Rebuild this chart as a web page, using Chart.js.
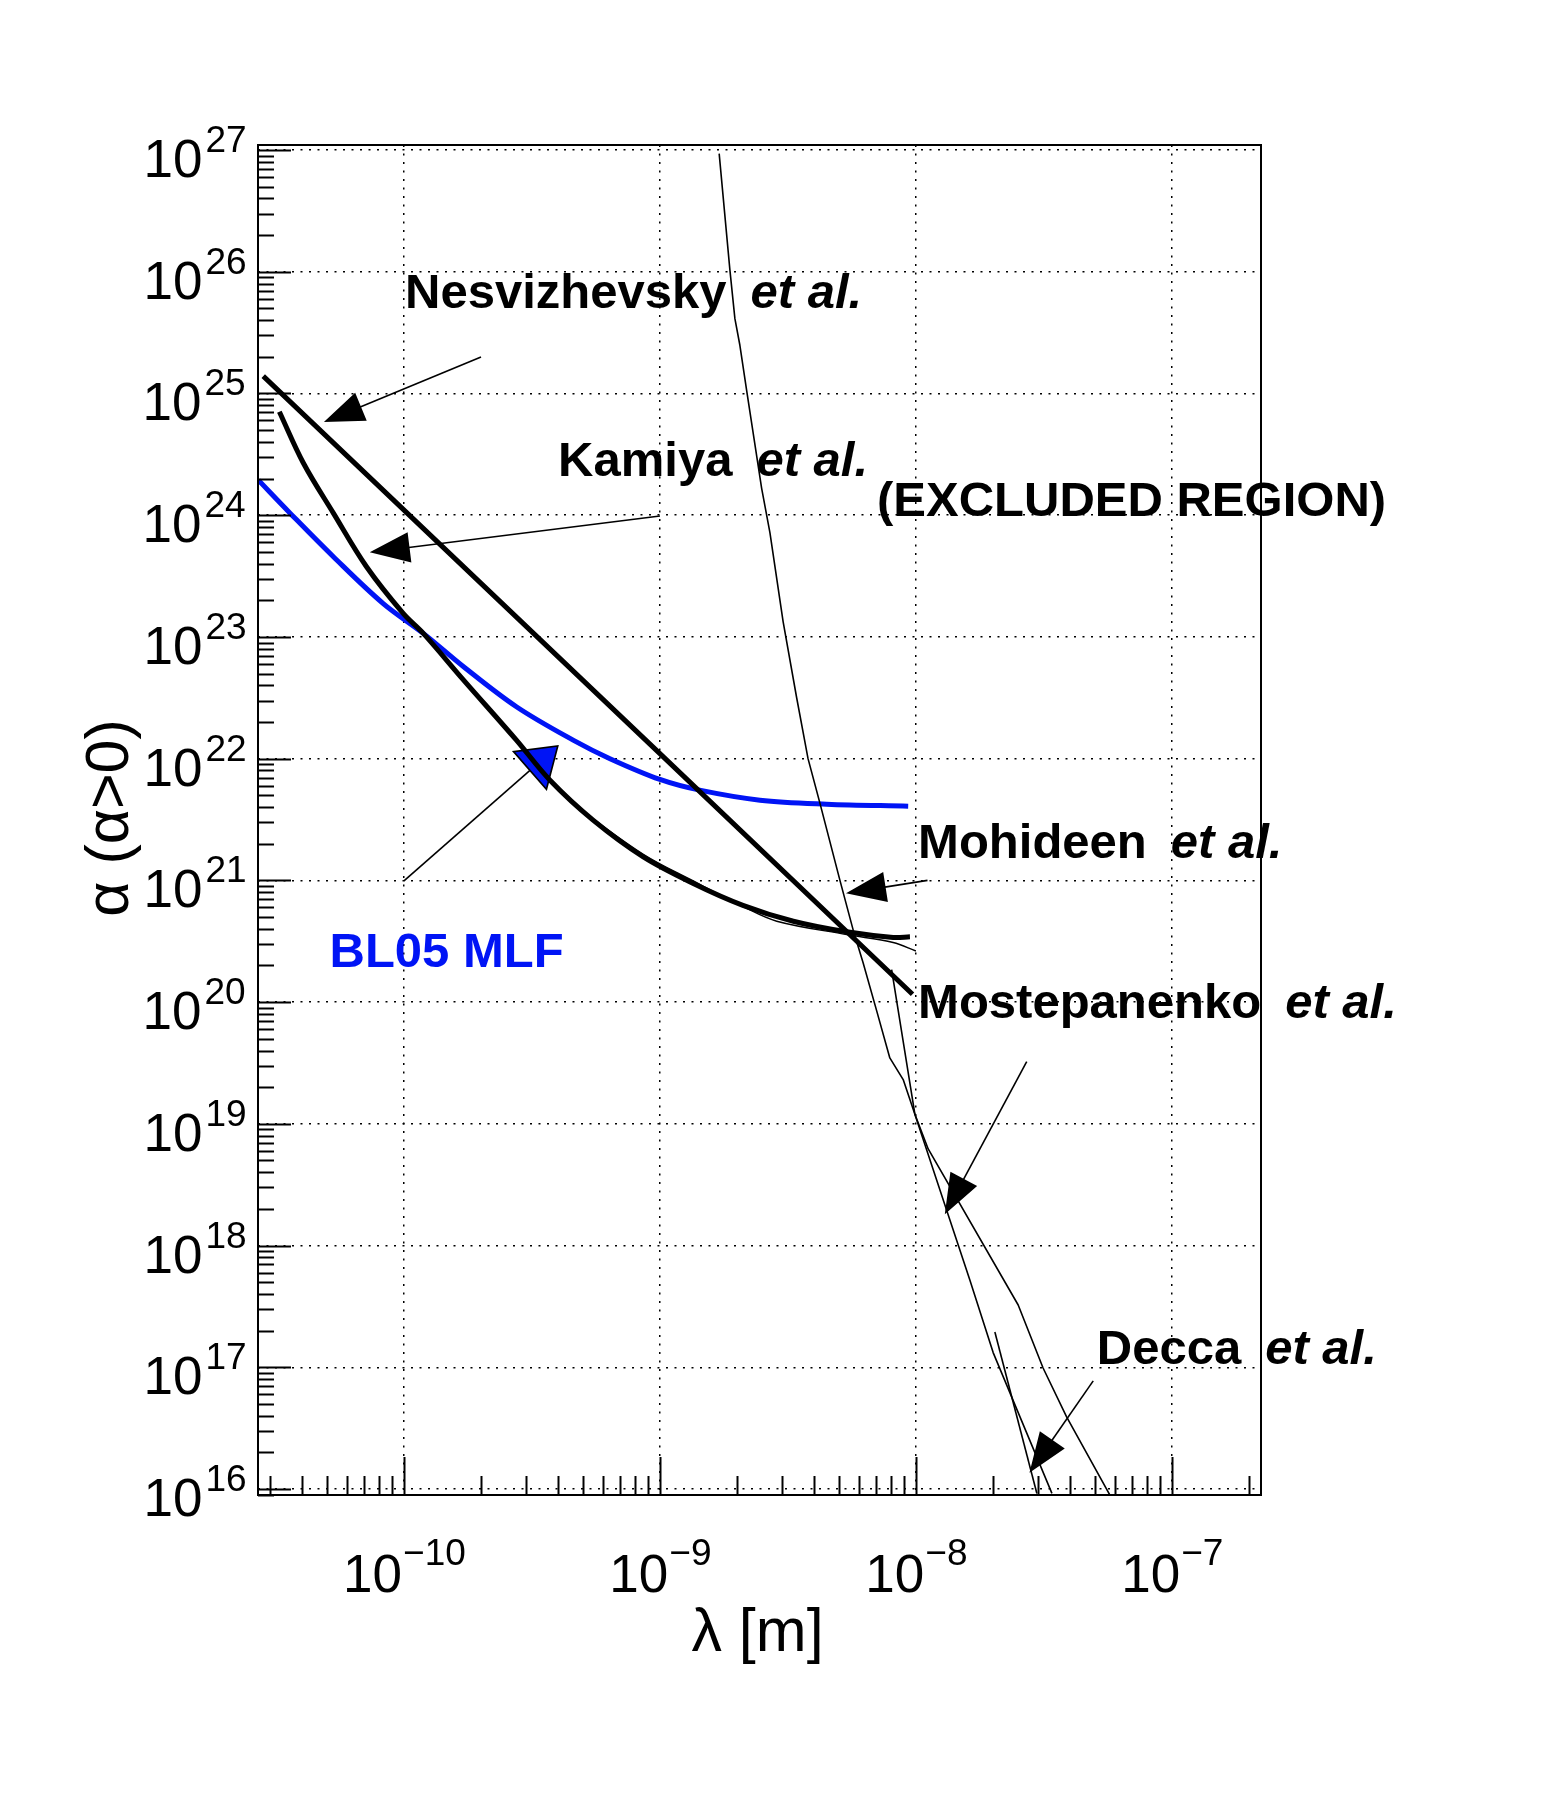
<!DOCTYPE html>
<html>
<head>
<meta charset="utf-8">
<title>alpha vs lambda</title>
<script src="https://cdn.jsdelivr.net/npm/chart.js@4.4.1/dist/chart.umd.min.js"></script>
<style>
  html, body { margin: 0; padding: 0; background: #fff; }
  #wrap { width: 1546px; height: 1796px; position: relative; }
</style>
</head>
<body>
<div id="wrap"><canvas id="chart"></canvas></div>
<script>
// axis ranges (lambda in m, alpha dimensionless)
const lambdaMin = 2.69e-11, lambdaMax = 2.23e-7;
const alphaMin = 8.93e15, alphaMax = 1.10e27;
const lambdaDecades = [-10, -9, -8, -7];
const alphaDecades = [16, 17, 18, 19, 20, 21, 22, 23, 24, 25, 26, 27];

// BL05 MLF sensitivity (blue)
const bl05Lambda = [2.70e-11, 3.59e-11, 5.30e-11, 8.30e-11, 1.19e-10, 1.71e-10, 2.75e-10, 4.58e-10, 6.38e-10, 1.0e-9, 1.43e-9, 2.46e-9, 4.48e-9, 9.33e-9];
const bl05Alpha  = [1.94e24, 1.04e24, 4.56e23, 1.88e23, 1.07e23, 5.69e22, 2.67e22, 1.42e22, 1.0e22, 6.75e21, 5.51e21, 4.56e21, 4.23e21, 4.07e21];

// Nesvizhevsky et al.
const nesvLambda = [2.82e-11, 1.0e-9, 9.7e-9];
const nesvAlpha  = [1.39e25, 1.10e22, 1.16e20];

// Kamiya et al. (thick)
const kamiyaLambda = [3.26e-11, 4.05e-11, 5.30e-11, 7.14e-11, 9.93e-11, 1.19e-10, 1.71e-10, 2.75e-10, 3.72e-10, 5.48e-10, 8.61e-10, 1.35e-9, 2.11e-9, 3.32e-9, 5.36e-9, 8.15e-9, 9.48e-9];
const kamiyaAlpha  = [7.08e24, 2.67e24, 1.04e24, 3.77e23, 1.56e23, 1.07e23, 4.42e22, 1.42e22, 6.65e21, 3.13e21, 1.56e21, 9.44e20, 6.24e20, 4.62e20, 3.78e20, 3.40e20, 3.44e20];

// thin curve running along Kamiya
const kamiyaThinLambda = [5.01e-10, 8.61e-10, 1.35e-9, 2.11e-9, 2.86e-9, 5.36e-9, 8.15e-9, 1.0e-8];
const kamiyaThinAlpha  = [3.67e21, 1.64e21, 9.89e20, 6.1e20, 4.62e20, 3.59e20, 3.09e20, 2.63e20];

// Mohideen et al. (steep thin curve from the top)
const mohideenLambda = [1.704e-9, 1.876e-9, 1.963e-9, 2.053e-9, 2.18e-9, 2.496e-9, 2.69e-9, 3.03e-9, 3.42e-9, 3.79e-9, 4.22e-9, 5.05e-9, 5.69e-9, 6.22e-9, 7.02e-9, 7.91e-9, 8.92e-9, 9.91e-9, 1.117e-8, 2.51e-8, 3.14e-8, 3.88e-8, 5.73e-8];
const mohideenAlpha  = [9.35e26, 1.04e26, 4.12e25, 2.49e25, 1.07e25, 1.67e24, 7.19e23, 1.33e23, 3.18e22, 1.0e22, 4.29e21, 1.0e21, 3.90e20, 2.11e20, 8.55e19, 3.48e19, 2.31e19, 1.20e19, 6.22e18, 3.25e17, 9.87e16, 3.91e16, 8.9e15];

// Mostepanenko et al.
const mostLambda = [8.04e-9, 9.91e-9, 1.318e-8, 1.626e-8, 2.004e-8, 3.40e-8];
const mostAlpha  = [1.85e20, 1.2e19, 1.96e18, 5.19e17, 1.32e17, 9.2e15];

// Decca et al.
const deccaLambda = [2.035e-8, 2.97e-8];
const deccaAlpha  = [1.95e17, 9.2e15];

// annotation texts (left end of baseline, data coordinates)
const labelNames  = ['Nesvizhevsky', 'Kamiya', 'Mohideen', 'Mostepanenko', 'Decca'];
const labelLambda = [1.01e-10, 4.0e-10, 1.02e-8, 1.02e-8, 5.09e-8];
const labelAlpha  = [5.04e25, 2.1e24, 1.52e21, 7.38e19, 1.06e17];
const excludedPos = [7.05e-9, 9.8e23];
const bl05LabelPos = [5.12e-11, 1.95e20];

// arrows: tail -> head (data coordinates)
const arrowFromLambda = [2.00e-10, 1.0e-9, 1.0e-10, 1.11e-8, 2.71e-8, 4.93e-8];
const arrowFromAlpha  = [1.99e25, 9.84e23, 9.9e20, 1.0e21, 3.24e19, 7.73e16];
const arrowToLambda   = [4.96e-11, 7.50e-11, 3.99e-10, 5.44e-9, 1.31e-8, 2.81e-8];
const arrowToAlpha    = [5.93e24, 4.98e23, 1.27e22, 7.9e20, 1.88e18, 1.41e16];

const FONT = "'Liberation Sans', Arial, Helvetica, sans-serif";
const BLUE = 'rgb(0,20,245)';
const arrowStyle = { 2: { fill: BLUE, half: 25 } };

function pts(xs, ys) { return xs.map((x, i) => ({ x: x, y: ys[i] })); }

function logTicks(minV, maxV) {
  const out = [];
  const e0 = Math.floor(Math.log10(minV)), e1 = Math.ceil(Math.log10(maxV));
  for (let e = e0; e <= e1; e++) {
    for (let m = 1; m <= 9; m++) {
      const v = m * Math.pow(10, e);
      if (v >= minV && v <= maxV) out.push({ value: v, major: m === 1 });
    }
  }
  return out;
}

function line(ctx, x0, y0, x1, y1) {
  ctx.beginPath(); ctx.moveTo(x0, y0); ctx.lineTo(x1, y1); ctx.stroke();
}

const arrows = {
  id: 'arrows',
  beforeDatasetsDraw(chart) {
    const { ctx, scales: { x, y } } = chart;
    ctx.save();
    ctx.strokeStyle = '#000';
    ctx.lineWidth = 1.6;
    ctx.lineJoin = 'miter';
    arrowFromLambda.forEach((l, i) => {
      const x0 = x.getPixelForValue(l), y0 = y.getPixelForValue(arrowFromAlpha[i]);
      const x1 = x.getPixelForValue(arrowToLambda[i]), y1 = y.getPixelForValue(arrowToAlpha[i]);
      const st = arrowStyle[i] || {};
      const len = 37, half = st.half || 14;
      const ang = Math.atan2(y1 - y0, x1 - x0);
      const bx = x1 - len * Math.cos(ang), by = y1 - len * Math.sin(ang);
      line(ctx, x0, y0, bx, by);
      const nx = -Math.sin(ang) * half, ny = Math.cos(ang) * half;
      ctx.beginPath();
      ctx.moveTo(x1, y1);
      ctx.lineTo(bx + nx, by + ny);
      ctx.lineTo(bx - nx, by - ny);
      ctx.closePath();
      ctx.fillStyle = st.fill || '#000';
      ctx.fill();
      ctx.stroke();
    });
    ctx.restore();
  }
};

const frame = {
  id: 'frame',
  afterDraw(chart) {
    const { ctx, chartArea: a, scales: { x, y } } = chart;
    ctx.save();
    ctx.strokeStyle = '#000';
    ctx.lineWidth = 2;
    // inward ticks
    y.ticks.forEach(t => {
      const py = Math.round(y.getPixelForValue(t.value)) + 0.5;
      line(ctx, a.left, py, a.left + (t.major ? 33 : 16), py);
    });
    x.ticks.forEach(t => {
      const px = Math.round(x.getPixelForValue(t.value)) + 0.5;
      line(ctx, px, a.bottom, px, a.bottom - (t.major ? 38 : 19));
    });
    ctx.strokeRect(a.left, a.top, a.right - a.left, a.bottom - a.top);

    // tick labels
    ctx.fillStyle = '#000';
    ctx.textBaseline = 'alphabetic';
    alphaDecades.forEach(p => {
      const py = y.getPixelForValue(Math.pow(10, p));
      const sup = String(p);
      ctx.textAlign = 'left';
      ctx.font = '37px ' + FONT;
      const m = ctx.measureText(sup);
      const supX = a.left - 13 - m.actualBoundingBoxRight;
      ctx.fillText(sup, supX, py + 2);
      ctx.font = '53px ' + FONT;
      ctx.textAlign = 'right';
      ctx.fillText('10', supX - 3, py + 27);
    });
    lambdaDecades.forEach(p => {
      const px = x.getPixelForValue(Math.pow(10, p));
      const sup = '\u2212' + String(-p);
      ctx.textAlign = 'left';
      ctx.font = '53px ' + FONT;
      const wMain = ctx.measureText('10').width;
      ctx.font = '37px ' + FONT;
      const wSup = ctx.measureText(sup).width;
      const start = px - (wMain + wSup) / 2;
      ctx.font = '53px ' + FONT;
      ctx.fillText('10', start, a.bottom + 97);
      ctx.font = '37px ' + FONT;
      ctx.fillText(sup, start + wMain + 1, a.bottom + 70);
    });

    // axis titles
    ctx.font = '61px ' + FONT;
    ctx.textAlign = 'center';
    ctx.fillText('\u03bb [m]', (a.left + a.right) / 2 - 2, a.bottom + 156);
    ctx.save();
    ctx.translate(128, (a.top + a.bottom) / 2 - 2);
    ctx.rotate(-Math.PI / 2);
    ctx.fillText('\u03b1 (\u03b1>0)', 0, 0);
    ctx.restore();

    // annotations
    ctx.textAlign = 'left';
    labelNames.forEach((name, i) => {
      const px = x.getPixelForValue(labelLambda[i]), py = y.getPixelForValue(labelAlpha[i]);
      ctx.font = 'bold 49px ' + FONT;
      ctx.fillText(name, px, py);
      const w = ctx.measureText(name).width;
      ctx.font = 'italic bold 49px ' + FONT;
      ctx.fillText('et al.', px + w + 24, py);
    });
    ctx.font = 'bold 49px ' + FONT;
    ctx.fillText('(EXCLUDED REGION)', x.getPixelForValue(excludedPos[0]), y.getPixelForValue(excludedPos[1]));
    ctx.fillStyle = BLUE;
    ctx.fillText('BL05 MLF', x.getPixelForValue(bl05LabelPos[0]), y.getPixelForValue(bl05LabelPos[1]));
    ctx.restore();
  }
};

function curve(label, xs, ys, color, width, tension) {
  return {
    label: label,
    data: pts(xs, ys),
    showLine: true,
    borderColor: color,
    borderWidth: width,
    borderJoinStyle: 'round',
    pointRadius: 0,
    fill: false,
    tension: tension
  };
}

const gridColor = c => (c.tick && c.tick.major) ? '#000' : 'rgba(0,0,0,0)';

new Chart(document.getElementById('chart'), {
  type: 'scatter',
  data: {
    datasets: [
      curve('Nesvizhevsky et al.', nesvLambda, nesvAlpha, '#000', 5, 0),
      curve('Kamiya et al.', kamiyaLambda, kamiyaAlpha, '#000', 5, 0.35),
      curve('Kamiya (thin)', kamiyaThinLambda, kamiyaThinAlpha, '#000', 1.4, 0.35),
      curve('Mohideen et al.', mohideenLambda, mohideenAlpha, '#000', 1.6, 0),
      curve('Mostepanenko et al.', mostLambda, mostAlpha, '#000', 1.6, 0),
      curve('Decca et al.', deccaLambda, deccaAlpha, '#000', 1.6, 0),
      curve('BL05 MLF', bl05Lambda, bl05Alpha, BLUE, 5, 0.35)
    ]
  },
  options: {
    responsive: true,
    maintainAspectRatio: false,
    animation: false,
    events: [],
    layout: { padding: { left: 258, right: 285, top: 145, bottom: 301 } },
    plugins: {
      legend: { display: false },
      tooltip: { enabled: false }
    },
    scales: {
      x: {
        type: 'logarithmic',
        min: lambdaMin,
        max: lambdaMax,
        afterBuildTicks: s => { s.ticks = logTicks(lambdaMin, lambdaMax); },
        afterFit: s => { s.height = 0; },
        ticks: { display: false },
        grid: { color: gridColor, lineWidth: 1.5, drawTicks: false },
        border: { display: false, dash: [2, 6.5] }
      },
      y: {
        type: 'logarithmic',
        min: alphaMin,
        max: alphaMax,
        afterBuildTicks: s => { s.ticks = logTicks(alphaMin, alphaMax); },
        afterFit: s => { s.width = 0; },
        ticks: { display: false },
        grid: { color: gridColor, lineWidth: 1.5, drawTicks: false },
        border: { display: false, dash: [2, 6.5] }
      }
    }
  },
  plugins: [arrows, frame]
});
</script>
</body>
</html>
